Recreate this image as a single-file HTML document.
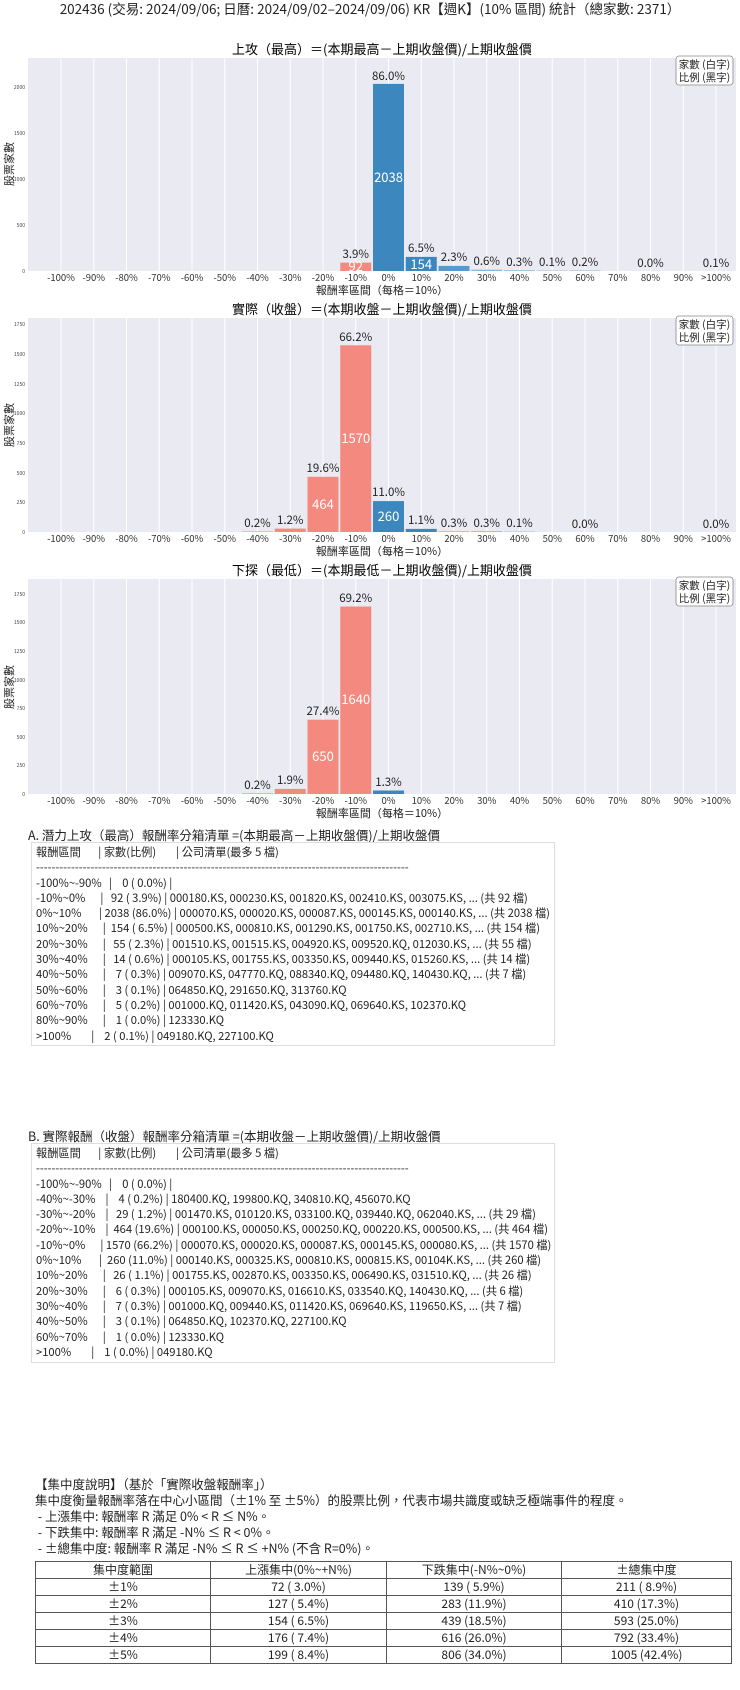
<!DOCTYPE html>
<html><head><meta charset="utf-8">
<style>
body{margin:0;background:#fff;width:740px;height:1690px;position:relative;overflow:hidden;font-family:"Noto Sans CJK TC","Liberation Sans",sans-serif;color:#222}
svg text{font-family:"Noto Sans CJK TC","Liberation Sans",sans-serif}
.t{position:absolute;font-size:12.5px;white-space:pre;line-height:16px}
.box{position:absolute;left:31px;width:524px;border:1px solid #ddd;font-size:11.2px;line-height:15.3px;white-space:pre;padding:2px 0 2px 4px;box-sizing:border-box;overflow:hidden}
table{position:absolute;left:35px;top:1561px;width:697px;border-collapse:collapse;font-size:12px}
td{border:1px solid #555;height:16px;padding:0;text-align:center;line-height:16px}
</style></head><body>
<svg width="740" height="820" style="position:absolute;left:0;top:0" xmlns="http://www.w3.org/2000/svg">
<text x="370" y="14" font-size="13.5" text-anchor="middle" fill="#222">202436 (交易: 2024/09/06; 日曆: 2024/09/02–2024/09/06) KR【週K】(10% 區間) 統計（總家數: 2371）</text>
<g id="c1">
<text x="382" y="54" font-size="13" text-anchor="middle">上攻（最高）＝(本期最高－上期收盤價)/上期收盤價</text>
<rect x="28" y="58" width="708" height="213" fill="#eaeaf2"/>
<g stroke="#fff" stroke-width="1">
<line x1="61" y1="58" x2="61" y2="271"/><line x1="93.75" y1="58" x2="93.75" y2="271"/><line x1="126.5" y1="58" x2="126.5" y2="271"/><line x1="159.25" y1="58" x2="159.25" y2="271"/><line x1="192" y1="58" x2="192" y2="271"/><line x1="224.75" y1="58" x2="224.75" y2="271"/><line x1="257.5" y1="58" x2="257.5" y2="271"/><line x1="290.25" y1="58" x2="290.25" y2="271"/><line x1="323" y1="58" x2="323" y2="271"/><line x1="355.75" y1="58" x2="355.75" y2="271"/><line x1="388.5" y1="58" x2="388.5" y2="271"/><line x1="421.25" y1="58" x2="421.25" y2="271"/><line x1="454" y1="58" x2="454" y2="271"/><line x1="486.75" y1="58" x2="486.75" y2="271"/><line x1="519.5" y1="58" x2="519.5" y2="271"/><line x1="552.25" y1="58" x2="552.25" y2="271"/><line x1="585" y1="58" x2="585" y2="271"/><line x1="617.75" y1="58" x2="617.75" y2="271"/><line x1="650.5" y1="58" x2="650.5" y2="271"/><line x1="683.25" y1="58" x2="683.25" y2="271"/><line x1="716" y1="58" x2="716" y2="271"/>
</g>
<rect x="340.25" y="262.6" width="31" height="8.4" fill="#f48a7f"/>
<rect x="373" y="83.9" width="31" height="187.1" fill="#3d87bf"/>
<rect x="405.75" y="256.9" width="31" height="14.1" fill="#3d87bf"/>
<rect x="438.5" y="265.9" width="31" height="5.1" fill="#5a9acb"/>
<rect x="471.25" y="269.7" width="31" height="1.3" fill="#8ab8da"/>
<rect x="504" y="270.3" width="31" height="0.7" fill="#8ab8da"/>
<rect x="536.75" y="270.6" width="31" height="0.4" fill="#8ab8da"/>
<rect x="569.5" y="270.5" width="31" height="0.5" fill="#8ab8da"/>
<g font-size="11.5" text-anchor="middle" fill="#222">
<text x="355.75" y="258">3.9%</text><text x="388.5" y="80">86.0%</text><text x="421.25" y="252">6.5%</text><text x="454" y="261">2.3%</text><text x="486.75" y="265">0.6%</text><text x="519.5" y="266">0.3%</text><text x="552.25" y="266">0.1%</text><text x="585" y="266">0.2%</text><text x="650.5" y="267">0.0%</text><text x="716" y="267">0.1%</text>
</g>
<g font-size="13" text-anchor="middle" fill="#fff">
<text x="355.75" y="271">92</text><text x="388.5" y="182">2038</text><text x="421.25" y="269">154</text>
</g>
</g>
<g id="c2">
<text x="382" y="314" font-size="13" text-anchor="middle">實際（收盤）＝(本期收盤－上期收盤價)/上期收盤價</text>
<rect x="28" y="318" width="708" height="214" fill="#eaeaf2"/>
<g stroke="#fff" stroke-width="1">
<line x1="61" y1="318" x2="61" y2="532"/><line x1="93.75" y1="318" x2="93.75" y2="532"/><line x1="126.5" y1="318" x2="126.5" y2="532"/><line x1="159.25" y1="318" x2="159.25" y2="532"/><line x1="192" y1="318" x2="192" y2="532"/><line x1="224.75" y1="318" x2="224.75" y2="532"/><line x1="257.5" y1="318" x2="257.5" y2="532"/><line x1="290.25" y1="318" x2="290.25" y2="532"/><line x1="323" y1="318" x2="323" y2="532"/><line x1="355.75" y1="318" x2="355.75" y2="532"/><line x1="388.5" y1="318" x2="388.5" y2="532"/><line x1="421.25" y1="318" x2="421.25" y2="532"/><line x1="454" y1="318" x2="454" y2="532"/><line x1="486.75" y1="318" x2="486.75" y2="532"/><line x1="519.5" y1="318" x2="519.5" y2="532"/><line x1="552.25" y1="318" x2="552.25" y2="532"/><line x1="585" y1="318" x2="585" y2="532"/><line x1="617.75" y1="318" x2="617.75" y2="532"/><line x1="650.5" y1="318" x2="650.5" y2="532"/><line x1="683.25" y1="318" x2="683.25" y2="532"/><line x1="716" y1="318" x2="716" y2="532"/>
</g>
<rect x="242" y="531.5" width="31" height="0.5" fill="#f48a7f"/>
<rect x="274.75" y="528.6" width="31" height="3.4" fill="#f48a7f"/>
<rect x="307.5" y="476.8" width="31" height="55.2" fill="#f48a7f"/>
<rect x="340.25" y="345.3" width="31" height="186.7" fill="#f48a7f"/>
<rect x="373" y="501.1" width="31" height="30.9" fill="#3d87bf"/>
<rect x="405.75" y="528.9" width="31" height="3.1" fill="#3d87bf"/>
<rect x="438.5" y="531.3" width="31" height="0.7" fill="#8ab8da"/>
<rect x="471.25" y="531.2" width="31" height="0.8" fill="#8ab8da"/>
<rect x="504" y="531.6" width="31" height="0.4" fill="#8ab8da"/>
<g font-size="11.5" text-anchor="middle" fill="#222">
<text x="257.5" y="527">0.2%</text><text x="290.25" y="524">1.2%</text><text x="323" y="472">19.6%</text><text x="355.75" y="341">66.2%</text><text x="388.5" y="496">11.0%</text><text x="421.25" y="524">1.1%</text><text x="454" y="527">0.3%</text><text x="486.75" y="527">0.3%</text><text x="519.5" y="527">0.1%</text><text x="585" y="528">0.0%</text><text x="716" y="528">0.0%</text>
</g>
<g font-size="13" text-anchor="middle" fill="#fff">
<text x="323" y="509">464</text><text x="355.75" y="443">1570</text><text x="388.5" y="521">260</text>
</g>
</g>
<g id="c3">
<text x="382" y="575" font-size="13" text-anchor="middle">下探（最低）＝(本期最低－上期收盤價)/上期收盤價</text>
<rect x="28" y="579" width="708" height="215" fill="#eaeaf2"/>
<g stroke="#fff" stroke-width="1">
<line x1="61" y1="579" x2="61" y2="794"/><line x1="93.75" y1="579" x2="93.75" y2="794"/><line x1="126.5" y1="579" x2="126.5" y2="794"/><line x1="159.25" y1="579" x2="159.25" y2="794"/><line x1="192" y1="579" x2="192" y2="794"/><line x1="224.75" y1="579" x2="224.75" y2="794"/><line x1="257.5" y1="579" x2="257.5" y2="794"/><line x1="290.25" y1="579" x2="290.25" y2="794"/><line x1="323" y1="579" x2="323" y2="794"/><line x1="355.75" y1="579" x2="355.75" y2="794"/><line x1="388.5" y1="579" x2="388.5" y2="794"/><line x1="421.25" y1="579" x2="421.25" y2="794"/><line x1="454" y1="579" x2="454" y2="794"/><line x1="486.75" y1="579" x2="486.75" y2="794"/><line x1="519.5" y1="579" x2="519.5" y2="794"/><line x1="552.25" y1="579" x2="552.25" y2="794"/><line x1="585" y1="579" x2="585" y2="794"/><line x1="617.75" y1="579" x2="617.75" y2="794"/><line x1="650.5" y1="579" x2="650.5" y2="794"/><line x1="683.25" y1="579" x2="683.25" y2="794"/><line x1="716" y1="579" x2="716" y2="794"/>
</g>
<rect x="242" y="793.4" width="31" height="0.6" fill="#f48a7f"/>
<rect x="274.75" y="788.9" width="31" height="5.1" fill="#f48a7f"/>
<rect x="307.5" y="719.7" width="31" height="74.3" fill="#f48a7f"/>
<rect x="340.25" y="606.5" width="31" height="187.5" fill="#f48a7f"/>
<rect x="373" y="790.5" width="31" height="3.5" fill="#3d87bf"/>
<g font-size="11.5" text-anchor="middle" fill="#222">
<text x="257.5" y="789">0.2%</text><text x="290.25" y="784">1.9%</text><text x="323" y="715">27.4%</text><text x="355.75" y="602">69.2%</text><text x="388.5" y="786">1.3%</text>
</g>
<g font-size="13" text-anchor="middle" fill="#fff">
<text x="323" y="761">650</text><text x="355.75" y="704">1640</text>
</g>
</g>
<g id="xt" font-size="9.5" text-anchor="middle" fill="#333"><text x="61">-100%</text><text x="93.75">-90%</text><text x="126.5">-80%</text><text x="159.25">-70%</text><text x="192">-60%</text><text x="224.75">-50%</text><text x="257.5">-40%</text><text x="290.25">-30%</text><text x="323">-20%</text><text x="355.75">-10%</text><text x="388.5">0%</text><text x="421.25">10%</text><text x="454">20%</text><text x="486.75">30%</text><text x="519.5">40%</text><text x="552.25">50%</text><text x="585">60%</text><text x="617.75">70%</text><text x="650.5">80%</text><text x="683.25">90%</text><text x="716">&gt;100%</text></g>
<use href="#xt" y="281"/><use href="#xt" y="542"/><use href="#xt" y="804"/>
<g font-size="11" text-anchor="middle" fill="#222">
<text x="382" y="294">報酬率區間（每格＝10%）</text>
<text x="382" y="555">報酬率區間（每格＝10%）</text>
<text x="382" y="817">報酬率區間（每格＝10%）</text>
<text transform="translate(13,164) rotate(-90)">股票家數</text>
<text transform="translate(13,425) rotate(-90)">股票家數</text>
<text transform="translate(13,687) rotate(-90)">股票家數</text>
</g>
<g font-size="5" text-anchor="end" fill="#444">
<text x="25" y="273">0</text><text x="25" y="227">500</text><text x="25" y="181">1000</text><text x="25" y="135">1500</text><text x="25" y="89">2000</text>
<text x="25" y="534">0</text><text x="25" y="504">250</text><text x="25" y="475">500</text><text x="25" y="445">750</text><text x="25" y="415">1000</text><text x="25" y="386">1250</text><text x="25" y="356">1500</text><text x="25" y="326">1750</text>
<text x="25" y="796">0</text><text x="25" y="767">250</text><text x="25" y="739">500</text><text x="25" y="710">750</text><text x="25" y="682">1000</text><text x="25" y="653">1250</text><text x="25" y="624">1500</text><text x="25" y="596">1750</text>
</g>
<g id="lg" font-size="10.5" text-anchor="middle" fill="#222">
<rect x="676" y="56" width="57" height="29" rx="3" fill="#fff" stroke="#888" stroke-width="0.8"/>
<text x="704.5" y="68">家數 (白字)</text>
<text x="704.5" y="81">比例 (黑字)</text>
</g>
<use href="#lg" y="260"/><use href="#lg" y="521"/>
</svg>

<div class="t" style="left:28px;top:827px">A. 潛力上攻（最高）報酬率分箱清單 =(本期最高－上期收盤價)/上期收盤價</div>
<div class="box" style="top:842px;height:204px">報酬區間       | 家數(比例)        | 公司清單(最多 5 檔)
------------------------------------------------------------------------------------------------
-100%~-90%   |    0 ( 0.0%) |
-10%~0%      |   92 ( 3.9%) | 000180.KS, 000230.KS, 001820.KS, 002410.KS, 003075.KS, ... (共 92 檔)
0%~10%       | 2038 (86.0%) | 000070.KS, 000020.KS, 000087.KS, 000145.KS, 000140.KS, ... (共 2038 檔)
10%~20%      |  154 ( 6.5%) | 000500.KS, 000810.KS, 001290.KS, 001750.KS, 002710.KS, ... (共 154 檔)
20%~30%      |   55 ( 2.3%) | 001510.KS, 001515.KS, 004920.KS, 009520.KQ, 012030.KS, ... (共 55 檔)
30%~40%      |   14 ( 0.6%) | 000105.KS, 001755.KS, 003350.KS, 009440.KS, 015260.KS, ... (共 14 檔)
40%~50%      |    7 ( 0.3%) | 009070.KS, 047770.KQ, 088340.KQ, 094480.KQ, 140430.KQ, ... (共 7 檔)
50%~60%      |    3 ( 0.1%) | 064850.KQ, 291650.KQ, 313760.KQ
60%~70%      |    5 ( 0.2%) | 001000.KQ, 011420.KS, 043090.KQ, 069640.KS, 102370.KQ
80%~90%      |    1 ( 0.0%) | 123330.KQ
&gt;100%        |    2 ( 0.1%) | 049180.KQ, 227100.KQ</div>

<div class="t" style="left:28px;top:1128px">B. 實際報酬（收盤）報酬率分箱清單 =(本期收盤－上期收盤價)/上期收盤價</div>
<div class="box" style="top:1143px;height:220px">報酬區間       | 家數(比例)        | 公司清單(最多 5 檔)
------------------------------------------------------------------------------------------------
-100%~-90%   |    0 ( 0.0%) |
-40%~-30%    |    4 ( 0.2%) | 180400.KQ, 199800.KQ, 340810.KQ, 456070.KQ
-30%~-20%    |   29 ( 1.2%) | 001470.KS, 010120.KS, 033100.KQ, 039440.KQ, 062040.KS, ... (共 29 檔)
-20%~-10%    |  464 (19.6%) | 000100.KS, 000050.KS, 000250.KQ, 000220.KS, 000500.KS, ... (共 464 檔)
-10%~0%      | 1570 (66.2%) | 000070.KS, 000020.KS, 000087.KS, 000145.KS, 000080.KS, ... (共 1570 檔)
0%~10%       |  260 (11.0%) | 000140.KS, 000325.KS, 000810.KS, 000815.KS, 00104K.KS, ... (共 260 檔)
10%~20%      |   26 ( 1.1%) | 001755.KS, 002870.KS, 003350.KS, 006490.KS, 031510.KQ, ... (共 26 檔)
20%~30%      |    6 ( 0.3%) | 000105.KS, 009070.KS, 016610.KS, 033540.KQ, 140430.KQ, ... (共 6 檔)
30%~40%      |    7 ( 0.3%) | 001000.KQ, 009440.KS, 011420.KS, 069640.KS, 119650.KS, ... (共 7 檔)
40%~50%      |    3 ( 0.1%) | 064850.KQ, 102370.KQ, 227100.KQ
60%~70%      |    1 ( 0.0%) | 123330.KQ
&gt;100%        |    1 ( 0.0%) | 049180.KQ</div>

<div class="t" style="left:35px;top:1476px">【集中度說明】（基於「實際收盤報酬率」）
集中度衡量報酬率落在中心小區間（±1% 至 ±5%）的股票比例，代表市場共識度或缺乏極端事件的程度。
 - 上漲集中: 報酬率 R 滿足 0% &lt; R ≤ N%。
 - 下跌集中: 報酬率 R 滿足 -N% ≤ R &lt; 0%。
 - ±總集中度: 報酬率 R 滿足 -N% ≤ R ≤ +N% (不含 R=0%)。</div>
<table>
<tr><td style="width:174px">集中度範圍</td><td style="width:175px">上漲集中(0%~+N%)</td><td style="width:174px">下跌集中(-N%~0%)</td><td>±總集中度</td></tr>
<tr><td>±1%</td><td>72 ( 3.0%)</td><td>139 ( 5.9%)</td><td>211 ( 8.9%)</td></tr>
<tr><td>±2%</td><td>127 ( 5.4%)</td><td>283 (11.9%)</td><td>410 (17.3%)</td></tr>
<tr><td>±3%</td><td>154 ( 6.5%)</td><td>439 (18.5%)</td><td>593 (25.0%)</td></tr>
<tr><td>±4%</td><td>176 ( 7.4%)</td><td>616 (26.0%)</td><td>792 (33.4%)</td></tr>
<tr><td>±5%</td><td>199 ( 8.4%)</td><td>806 (34.0%)</td><td>1005 (42.4%)</td></tr>
</table>
</body></html>
